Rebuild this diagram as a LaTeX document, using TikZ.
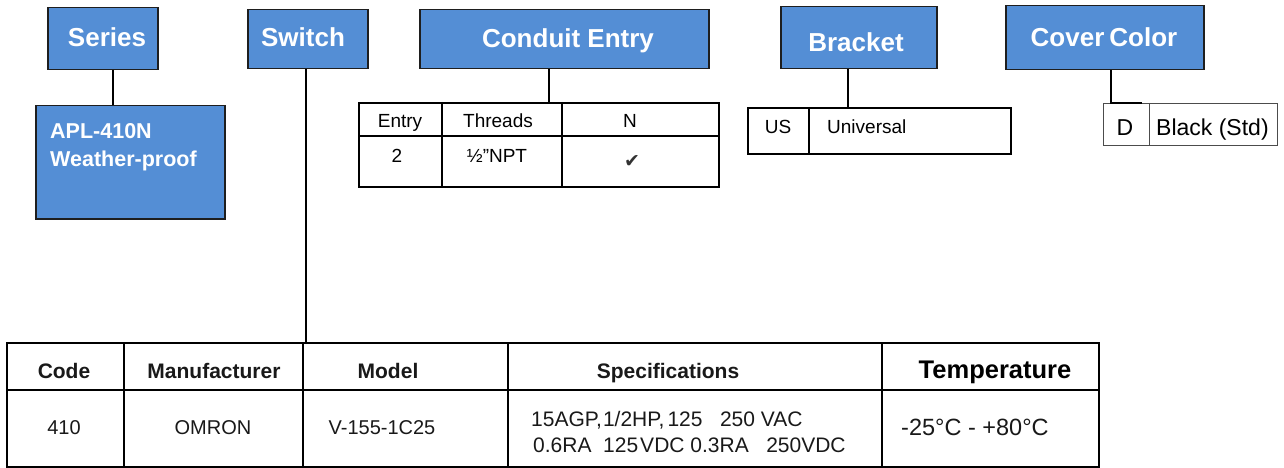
\documentclass[tikz,border=0pt]{standalone}
\usepackage{fontspec}
\setmainfont{Liberation Sans}
\newfontfamily\dejavu{DejaVu Sans}
\usetikzlibrary{calc}
\definecolor{hdrblue}{RGB}{84,142,213}
\definecolor{edgegray}{RGB}{30,30,30}
\newcommand{\setfs}[1]{\fontsize{#1}{#1}\selectfont}
\begin{document}
\begin{tikzpicture}[x=1pt,y=-1pt,
  hdr/.style={draw=edgegray, line width=1.5pt, fill=hdrblue, inner sep=0pt, anchor=north west},
  tbl/.style={draw=black, line width=2pt, inner sep=0pt, anchor=north west},
  thin tbl/.style={draw=black!70, line width=0.9pt, inner sep=0pt, anchor=north west},
  conn/.style={draw=black, line width=1.8pt},
  grid/.style={draw=black, line width=2pt},
  hdrtxt/.style={text=white, font=\bfseries\setfs{26}, inner sep=0pt, anchor=base},
  subtxt/.style={text=white, font=\bfseries\setfs{21.5}, inner sep=0pt, anchor=base west},
  celltxt/.style={text=black, font=\setfs{19}, inner sep=0pt, anchor=base},
  bodytxt/.style={text=black!90, font=\setfs{20}, inner sep=0pt, anchor=base},
  headtxt/.style={text=black!90, font=\bfseries\setfs{21}, inner sep=0pt, anchor=base}]
\useasboundingbox (0,0) rectangle (1284,468);
\fill[white] (0,0) rectangle (1284,468);

% header boxes
\node[hdr, minimum width=110pt, minimum height=62pt] (series) at (47,7) {};
\node[hdr, minimum width=120pt, minimum height=59pt] (switch) at (247,9) {};
\node[hdr, minimum width=289pt, minimum height=59pt] (conduit) at (419,9) {};
\node[hdr, minimum width=156pt, minimum height=62pt] (bracket) at (780,6) {};
\node[hdr, minimum width=198pt, minimum height=64pt] (cover) at (1005,5) {};
\node[hdr, minimum width=189pt, minimum height=113pt] (apl) at (35,105) {};

\node[hdrtxt] (seriesT) at (107,46.3) {Series};
\node[hdrtxt] (switchT) at (303,46.3) {Switch};
\node[hdrtxt] (conduitT) at (568,47.3) {Conduit Entry};
\node[hdrtxt] (bracketT) at (856,51.3) {Bracket};
\node[hdrtxt] (coverT) at (1104,46.8) {Cover\hspace{5pt}Color};
\node[subtxt] (aplT1) at (50,138.7) {APL-410N};
\node[subtxt] (aplT2) at (50,166.7) {Weather-proof};

% conduit entry table
\node[tbl, minimum width=360pt, minimum height=84pt] (ctab) at (358,102) {};
\draw[grid] (358,136) -- (718,136);
\draw[grid] (442,102) -- (442,186);
\draw[grid] (562,102) -- (562,186);
\node[celltxt] (cEntry) at (400,128) {Entry};
\node[celltxt] (cThreads) at (498,128) {Threads};
\node[celltxt] (cN) at (630,128) {N};
\node[celltxt] (c2) at (397,162) {2};
\node[celltxt] (cNPT) at (497,162) {½”NPT};
\node[text=black!80, font=\dejavu\setfs{19}, inner sep=0pt, anchor=base] (cCheck) at (632,167) {✔};

% bracket table
\node[tbl, minimum width=263pt, minimum height=46pt] (btab) at (747,107) {};
\draw[grid] (809,107) -- (809,153);
\node[celltxt] (bUS) at (778,133) {US};
\node[celltxt, anchor=base west] (bUni) at (827,133) {Universal};

% cover color table
\node[thin tbl, minimum width=174pt, minimum height=42pt] (dtab) at (1103,103) {};
\draw[draw=black!70, line width=0.9pt] (1149,103) -- (1149,145);
\draw[draw=black, line width=2.2pt] (1110,103) -- (1142,103);
\node[celltxt, font=\setfs{23}] (dD) at (1125,135.3) {D};
\node[celltxt, font=\setfs{23}, anchor=base west] (dBlack) at (1156,135.3) {Black (Std)};

% main switch table
\node[tbl, minimum width=1092pt, minimum height=124pt] (main) at (6,342) {};
\draw[grid] (6,390) -- (1098,390);
\draw[grid] (124,342) -- (124,466);
\draw[grid] (303,342) -- (303,466);
\draw[grid] (508,342) -- (508,466);
\draw[grid] (882,342) -- (882,466);
\node[headtxt] (hCode) at (64,378.5) {Code};
\node[headtxt] (hMan) at (214,378.5) {Manufacturer};
\node[headtxt] (hModel) at (388,378.5) {Model};
\node[headtxt] (hSpec) at (668,378.5) {Specifications};
\node[headtxt, text=black, font=\bfseries\setfs{25.5}] (hTemp) at (995,378) {Temperature};
\node[bodytxt] (vCode) at (64,434.5) {410};
\node[bodytxt] (vMan) at (213,434.5) {OMRON};
\node[bodytxt] (vModel) at (382,434.5) {V-155-1C25};
\node[bodytxt, anchor=base west, font=\setfs{21}] (vSpec1) at (531,426.5) {15AGP,\hspace{1pt}1/2HP,\hspace{3pt}125\ \ \ 250 VAC};
\node[bodytxt, anchor=base west, font=\setfs{21}] (vSpec2) at (533,452.5) {0.6RA\ \ 125\hspace{2pt}VDC 0.3RA\ \ \ 250VDC};
\node[bodytxt, anchor=base west, font=\setfs{23.5}] (vTemp) at (901,435.4) {-25°C - +80°C};

% connectors
\coordinate (s1) at ([xshift=10pt]series.south);
\draw[conn] (s1) -- (s1 |- apl.north);
\coordinate (s2) at ([xshift=-2pt]switch.south);
\draw[conn] (s2) -- (s2 |- main.north);
\coordinate (s3) at ([xshift=-15.5pt]conduit.south);
\draw[conn] (s3) -- (s3 |- ctab.north);
\coordinate (s4) at ([xshift=-11pt]bracket.south);
\draw[conn] (s4) -- (s4 |- btab.north);
\coordinate (s5) at ([xshift=6pt]cover.south);
\draw[conn] (s5) -- (s5 |- dtab.north);
\end{tikzpicture}
\end{document}
